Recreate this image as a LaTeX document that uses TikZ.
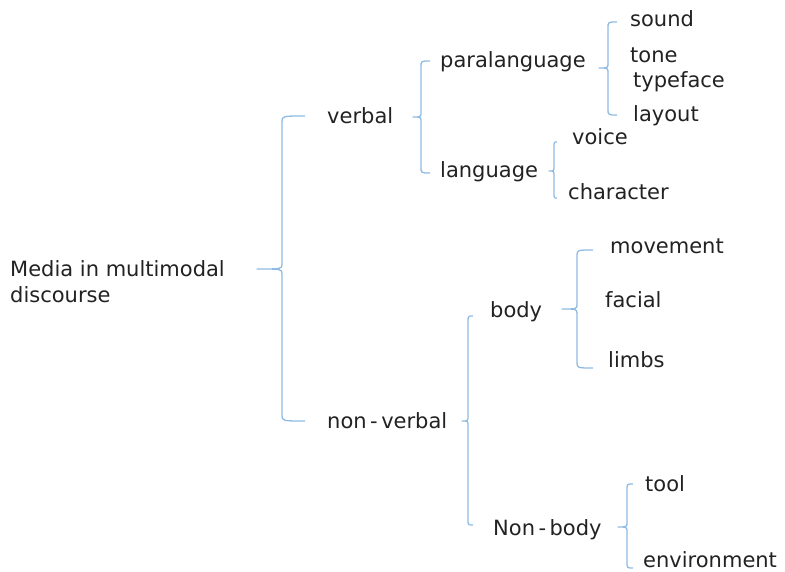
\documentclass[tikz,border=0pt]{standalone}
\usepackage{fontspec}
\setmainfont{DejaVu Sans}
\definecolor{brc}{HTML}{8FBBE3}
\definecolor{txt}{HTML}{222222}
\tikzset{
  lbl/.style={anchor=base west, inner sep=0pt, text=txt, font=\fontsize{21}{25}\selectfont},
  bracepath/.style={draw=brc, line width=1.3pt, line join=round}
}
\newcommand\hy{\kern3.5pt-\kern3.5pt}
% \brc{name}{tipx}{vx}{armx}{topy}{midy}{boty}
\newcommand\brc[7]{%
  \coordinate (#1-tip) at (#2,#6);
  \coordinate (#1-top) at (#4,#5);
  \coordinate (#1-bot) at (#4,#7);
  \draw[bracepath] (#1-top) .. controls (#3,#5) .. (#3,#5+6) -- (#3,#6-5)
     .. controls (#3,#6) .. (#1-tip) .. controls (#3,#6) .. (#3,#6+5)
     -- (#3,#7-6) .. controls (#3,#7) .. (#1-bot);
}
\begin{document}
\begin{tikzpicture}[x=1pt,y=-1pt]
\useasboundingbox (0,0) rectangle (785,572);
% texts
\node[lbl] (root) at (10,277) {Media in multimodal};
\node[lbl] (root2) at (10,302) {discourse};
\node[lbl] (verbal) at (327,124) {verbal};
\node[lbl] (nonverbal) at (327,428) {non\hy verbal};
\node[lbl] (para) at (440,68) {paralanguage};
\node[lbl] (lang) at (440,178) {language};
\node[lbl] (sound) at (630,27) {sound};
\node[lbl] (tone) at (630,63) {tone};
\node[lbl] (typeface) at (633,88) {typeface};
\node[lbl] (layout) at (633,122) {layout};
\node[lbl] (voice) at (572,145) {voice};
\node[lbl] (character) at (568,200) {character};
\node[lbl] (body) at (490,317) {body};
\node[lbl] (nonbody) at (493,535) {Non\hy body};
\node[lbl] (movement) at (610,254) {movement};
\node[lbl] (facial) at (605,308) {facial};
\node[lbl] (limbs) at (608,367) {limbs};
\node[lbl] (tool) at (645,491) {tool};
\node[lbl] (environment) at (643,567) {environment};
% braces
\brc{b1}{257}{282}{305}{116}{269}{421}
\brc{b2}{413}{421}{430}{61}{117}{173}
\brc{b3}{599}{608}{617}{22}{68}{115}
\brc{b4}{549}{554}{557}{142}{171}{198}
\brc{b5}{462}{468}{473}{316}{421}{525}
\brc{b6}{562}{577}{593}{250}{309}{368}
\brc{b7}{618}{627}{633}{484}{527}{568}
\end{tikzpicture}
\end{document}
